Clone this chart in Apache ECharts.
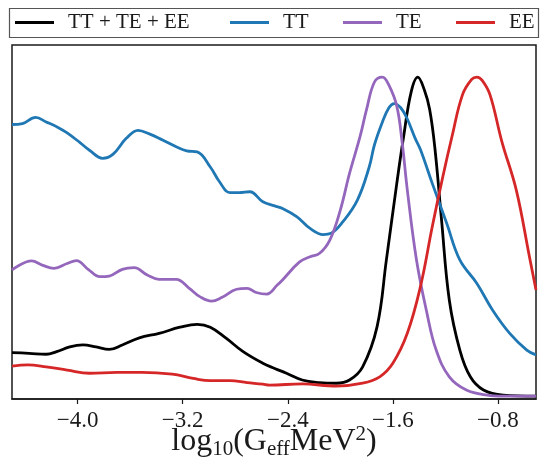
<!DOCTYPE html>
<html><head><meta charset="utf-8">
<script src="https://cdn.jsdelivr.net/npm/echarts@6/dist/echarts.min.js"></script>
<style>html,body{margin:0;padding:0;background:#fff}#c{width:540px;height:460px}</style>
</head><body><div id="c"></div>
<script>
const seriesNames = ['TT + TE + EE', 'TT', 'TE', 'EE'];
const xTicks = [-4.0, -3.2, -2.4, -1.6, -0.8];

const allX = [-4.50,-4.37,-4.24,-4.16,-4.06,-3.96,-3.86,-3.76,-3.66,-3.53,-3.38,-3.22,-3.09,-2.99,-2.87,-2.74,-2.59,-2.50,-2.41,-2.29,-2.16,-2.03,-1.93,-1.83,-1.72,-1.65,-1.57,-1.52,-1.46,-1.41,-1.36,-1.32,-1.28,-1.23,-1.17,-1.09,-1.01,-0.91,-0.76,-0.51];
const allY = [0.144,0.142,0.139,0.147,0.162,0.168,0.162,0.154,0.168,0.190,0.204,0.223,0.232,0.223,0.189,0.147,0.111,0.095,0.080,0.059,0.051,0.049,0.059,0.100,0.225,0.430,0.670,0.810,0.955,1.000,0.960,0.900,0.780,0.560,0.307,0.152,0.069,0.028,0.012,0.009];

const ttX = [-4.50,-4.42,-4.32,-4.24,-4.15,-4.08,-3.98,-3.91,-3.81,-3.73,-3.63,-3.54,-3.45,-3.35,-3.25,-3.17,-3.09,-2.99,-2.92,-2.84,-2.77,-2.69,-2.59,-2.50,-2.44,-2.33,-2.23,-2.13,-2.07,-1.98,-1.87,-1.78,-1.74,-1.68,-1.63,-1.59,-1.54,-1.49,-1.43,-1.39,-1.30,-1.19,-1.09,-0.96,-0.84,-0.71,-0.58,-0.51];
const ttY = [0.853,0.856,0.875,0.861,0.844,0.827,0.796,0.773,0.748,0.761,0.810,0.835,0.823,0.804,0.784,0.771,0.768,0.721,0.675,0.641,0.641,0.644,0.613,0.600,0.592,0.566,0.530,0.511,0.515,0.551,0.618,0.721,0.790,0.860,0.905,0.918,0.905,0.870,0.810,0.775,0.670,0.546,0.432,0.359,0.276,0.204,0.152,0.137];

const teX = [-4.50,-4.35,-4.27,-4.18,-4.08,-4.01,-3.92,-3.83,-3.76,-3.66,-3.57,-3.47,-3.38,-3.25,-3.15,-3.07,-2.98,-2.90,-2.79,-2.71,-2.64,-2.56,-2.48,-2.44,-2.31,-2.23,-2.16,-2.08,-2.00,-1.93,-1.85,-1.80,-1.74,-1.68,-1.63,-1.57,-1.53,-1.49,-1.42,-1.34,-1.27,-1.17,-1.04,-0.88,-0.76,-0.51];
const teY = [0.401,0.429,0.416,0.406,0.421,0.430,0.403,0.380,0.382,0.403,0.408,0.385,0.372,0.372,0.344,0.318,0.304,0.316,0.341,0.344,0.331,0.326,0.354,0.370,0.426,0.442,0.452,0.494,0.587,0.701,0.815,0.900,0.985,1.000,0.975,0.910,0.800,0.650,0.432,0.266,0.152,0.069,0.028,0.012,0.009,0.009];

const eeX = [-4.50,-4.38,-4.24,-4.08,-3.91,-3.70,-3.51,-3.28,-3.12,-2.99,-2.84,-2.71,-2.59,-2.54,-2.29,-2.03,-1.83,-1.70,-1.60,-1.49,-1.39,-1.30,-1.22,-1.15,-1.07,-1.00,-0.96,-0.92,-0.86,-0.77,-0.66,-0.56,-0.51];
const eeY = [0.102,0.106,0.100,0.090,0.080,0.083,0.083,0.077,0.064,0.057,0.057,0.051,0.046,0.043,0.047,0.040,0.049,0.069,0.111,0.204,0.349,0.535,0.690,0.815,0.945,0.993,1.000,0.990,0.945,0.800,0.649,0.442,0.339];

const xs = [allX, ttX, teX, eeX];
const ys = [allY, ttY, teY, eeY];
const colors = ['#000000', '#1f77b4', '#9467bd', '#d62728'];
const legendLeft = [15, 230, 343, 456];
const font = 'Liberation Serif';
const ink = '#1a1a1a';

const chart = echarts.init(document.getElementById('c'), null, {renderer: 'canvas'});
const option = {
  animation: false,
  backgroundColor: '#fff',
  grid: {left: 12, right: 4, top: 45, bottom: 61, show: true, borderColor: ink, borderWidth: 1.5,
    backgroundColor: 'transparent', containLabel: false, outerBoundsMode: 'none'},
  xAxis: {
    type: 'value', min: -4.5, max: -0.51,
    axisLine: {show: true, onZero: false, lineStyle: {color: ink, width: 1.5}},
    splitLine: {show: false},
    axisTick: {show: true, length: 5, lineStyle: {color: ink, width: 1.2}, customValues: xTicks},
    axisLabel: {customValues: xTicks, fontFamily: font, fontSize: 23, color: ink, margin: 10,
      formatter: v => (v < 0 ? '\u2212' : '') + Math.abs(v).toFixed(1)},
    name: '{a|log}{s|10}{a|(G}{s|eff}{a|MeV}{p|2}{a|)}',
    nameLocation: 'middle', nameGap: 25, nameMoveOverlap: false,
    nameTextStyle: {
      color: ink,
      rich: {
        a: {fontFamily: font, fontSize: 32, lineHeight: 36, color: ink},
        s: {fontFamily: font, fontSize: 21, lineHeight: 14, verticalAlign: 'bottom', color: ink},
        p: {fontFamily: font, fontSize: 21, lineHeight: 14, verticalAlign: 'top', color: ink}
      }
    }
  },
  yAxis: {type: 'value', min: 0, max: 1.1, show: false},
  legend: legendLeft.map((l, i) => ({
    data: [seriesNames[i]], left: l, top: 12, padding: 0,
    icon: 'rect', itemWidth: 39, itemHeight: 3, itemGap: 0, selectedMode: false,
    textStyle: {fontFamily: font, fontSize: 21, color: ink, padding: [0, 0, 0, 9]}
  })),
  graphic: [{type: 'rect', shape: {x: 9.5, y: 8.5, width: 529, height: 29},
    style: {fill: 'none', stroke: '#555', lineWidth: 1.2}, z: -1}],
  series: seriesNames.map((n, i) => ({
    name: n, type: 'line', showSymbol: false, smooth: 0.4, silent: true,
    color: colors[i],
    lineStyle: {width: 2.8, color: colors[i]},
    data: xs[i].map((x, j) => [x, ys[i][j]])
  }))
};
chart.setOption(option);
</script></body></html>
